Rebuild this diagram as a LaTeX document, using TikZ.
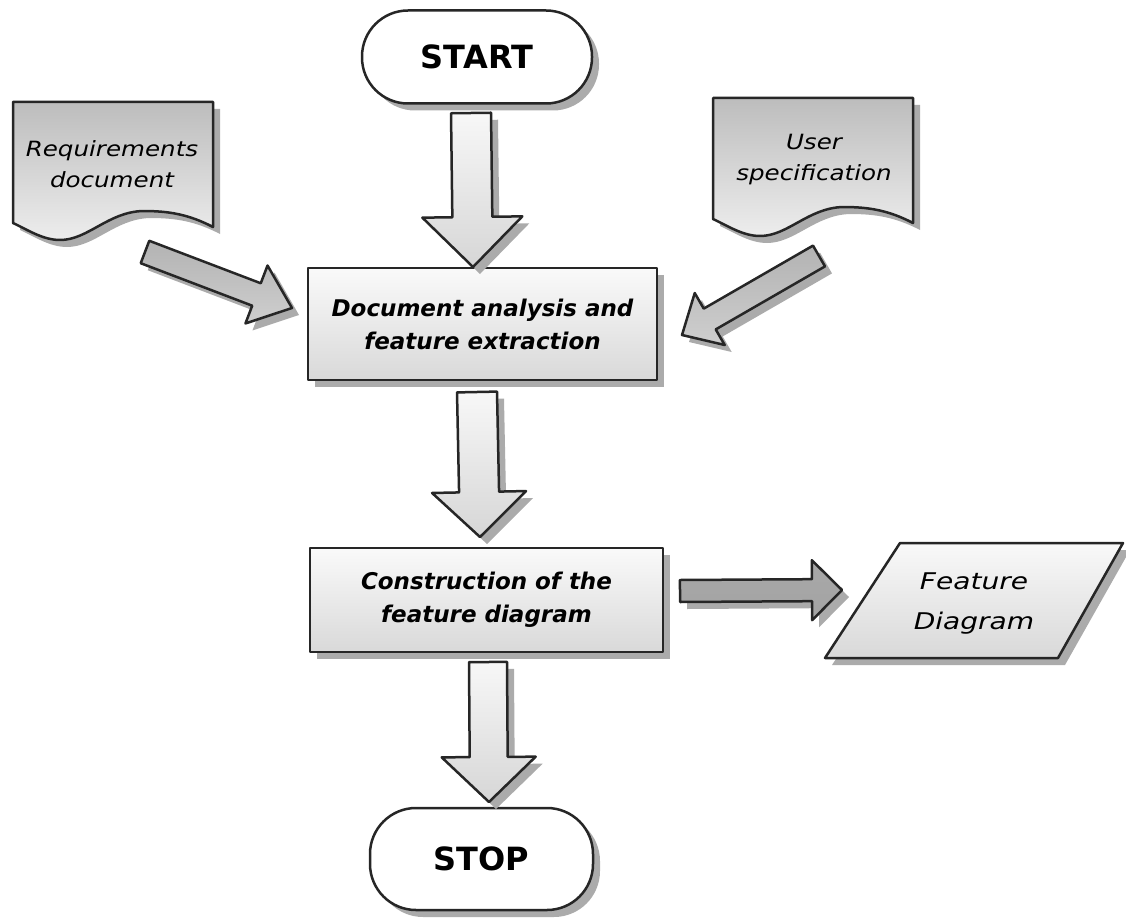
\documentclass[tikz,border=0pt]{standalone}
\usepackage{fontspec}
\setmainfont{DejaVu Sans}
\usetikzlibrary{calc}
\definecolor{edgec}{HTML}{262626}
\definecolor{shadowc}{HTML}{ABABAB}
\tikzset{
  outline/.style={draw=edgec, line width=2.5pt, line join=round},
  shadowed/.style={preaction={fill=shadowc, transform canvas={xshift=7pt,yshift=-7pt}}},
  procbox/.style={outline, shadowed, top color=gray!4, bottom color=gray!30, inner sep=0pt,
    font=\fontsize{23}{33}\selectfont\bfseries\itshape, align=center},
  term/.style={outline, shadowed, fill=white, inner sep=0pt, rounded corners=46pt,
    font=\fontsize{32}{36}\selectfont\bfseries},
  doctext/.style={font=\fontsize{21}{31}\selectfont\itshape, align=center, inner sep=0pt},
  docfill/.style={outline, shadowed, top color=gray!52, bottom color=gray!14},
  vfill/.style={outline, shadowed, top color=gray!6, bottom color=gray!32},
  dfill/.style={outline, shadowed, top color=gray!60, bottom color=gray!38},
  hfill/.style={outline, shadowed, top color=gray!68, middle color=gray!35, bottom color=gray!72},
  parafill/.style={outline, shadowed, top color=gray!5, bottom color=gray!30},
}
% block arrow: from, to, shaft half width, head half width, head length, style
\newcommand\blockarrow[6]{%
  \coordinate (bah) at ($(#2)!#5!(#1)$);
  \path[#6] ($(#1)!#3!90:(#2)$) -- ($(bah)!#3!90:(#2)$) -- ($(bah)!#4!90:(#2)$) -- (#2)
    -- ($(bah)!#4!-90:(#2)$) -- ($(bah)!#3!-90:(#2)$) -- ($(#1)!#3!-90:(#2)$) -- cycle;
}
\newcommand\docpath{(0,0) -- (200,0) -- (200,125) .. controls (175,112) and (155,109) .. (130,109)
  .. controls (95,110) and (75,138) .. (47,138) .. controls (30,138) and (15,128) .. (0,121) -- cycle}
\begin{document}
\begin{tikzpicture}[x=1pt,y=-1pt]
\useasboundingbox (0,0) rectangle (1126,920);

% document shapes
\begin{scope}[shift={(13,102)}]
  \path[docfill] \docpath;
\end{scope}
\begin{scope}[shift={(713,98)}]
  \path[docfill] \docpath;
\end{scope}
\node[doctext] (req) at (112,164) {\scalebox{1.17}[1]{Requirements}\\\scalebox{1.17}[1]{document}};
\node[doctext] (usr) at (814,160) {\scalebox{1.17}[1]{User}\\\scalebox{1.17}[1]{specification}};

% terminators and process boxes
\node[term, minimum width=230pt, minimum height=93pt] (start) at (477,57) {START};
\node[procbox, minimum width=349pt, minimum height=112pt] (anal) at (482.5,324) {Document analysis and\\feature extraction};
\node[procbox, minimum width=353pt, minimum height=104pt] (cons) at (486.5,600) {Construction of the\\feature diagram};
\node[term, minimum width=223pt, minimum height=102pt] (stop) at (481.5,859) {STOP};

% output parallelogram
\path[parafill] (900,543) -- (1123,543) -- (1058,658) -- (825,658) -- cycle;
\node[font=\fontsize{23}{40}\selectfont\itshape, align=center, inner sep=0pt] (fd) at (974,604)
  {\scalebox{1.22}[1]{Feature}\\\scalebox{1.22}[1]{Diagram}};

% arrow end points
\coordinate (a1s) at (471,113);  \coordinate (a1e) at (473,267);
\coordinate (a2s) at (477,392);  \coordinate (a2e) at (480,537);
\coordinate (a3s) at (488,662);  \coordinate (a3e) at (489,802);
\coordinate (d1s) at (145,252);  \coordinate (d1e) at (292,308);
\coordinate (d2s) at (819,256);  \coordinate (d2e) at (682,335);
\coordinate (hs)  at (680,591);  \coordinate (he)  at (842,590);

\blockarrow{a1s}{a1e}{20pt}{50pt}{50pt}{vfill}
\blockarrow{a2s}{a2e}{20pt}{47pt}{45pt}{vfill}
\blockarrow{a3s}{a3e}{19pt}{47pt}{45pt}{vfill}
\blockarrow{d1s}{d1e}{12pt}{31pt}{38pt}{dfill}
\blockarrow{d2s}{d2e}{12pt}{30pt}{32pt}{dfill}
\blockarrow{hs}{he}{11pt}{30pt}{30pt}{hfill}
\end{tikzpicture}
\end{document}
